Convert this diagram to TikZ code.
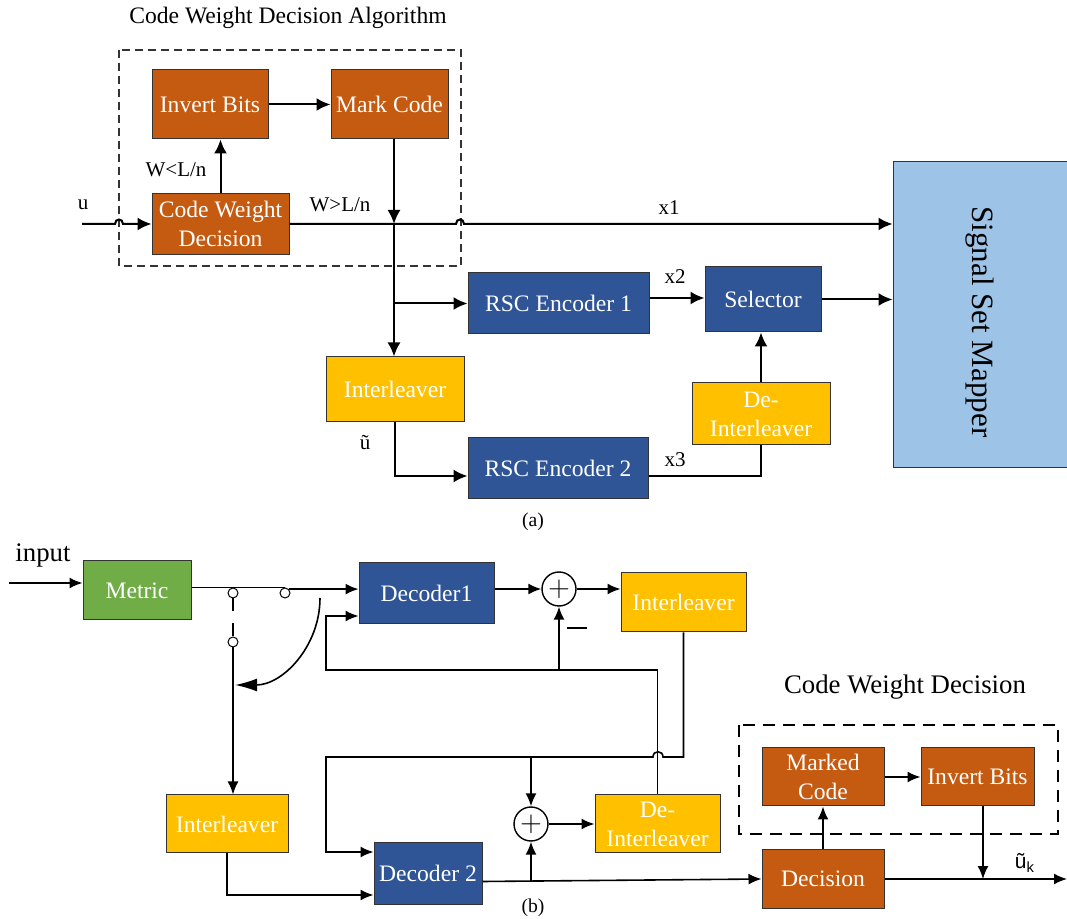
\documentclass[tikz,border=0pt]{standalone}
\usepackage{fontspec}
\setmainfont{Liberation Serif}
\newfontfamily\labelsans{Liberation Sans}
\usetikzlibrary{shapes,arrows.meta,positioning,calc}

\definecolor{codeorange}{HTML}{C55A11}
\definecolor{encblue}{HTML}{2F5597}
\definecolor{ilyellow}{HTML}{FFC000}
\definecolor{metricgreen}{HTML}{70AD47}
\definecolor{mapperblue}{HTML}{9DC3E6}

\begin{document}
\begin{tikzpicture}[x=0.5pt, y=-0.5pt,
    block/.style={rectangle, draw=black!80, line width=0.5pt, text=white, align=center, inner sep=1pt, font=\fontsize{11.8}{14.5}\selectfont},
    orangeblock/.style={block, fill=codeorange},
    blueblock/.style={block, fill=encblue},
    yellowblock/.style={block, fill=ilyellow},
    sumnode/.style={circle, draw, line width=0.7pt, minimum size=17pt, inner sep=0pt, font=\fontsize{15}{15}\selectfont},
    contact/.style={circle, draw, fill=white, line width=0.5pt, minimum size=5pt, inner sep=0pt},
    lbl/.style={font=\fontsize{10.5}{12}\selectfont},
    bigtitle/.style={font=\fontsize{13.4}{16}\selectfont},
    arr/.style={-{Latex[length=7pt,width=6.5pt]}, line width=1pt},
    arrb/.style={-{Latex[length=6.5pt,width=5.5pt]}, line width=0.8pt},
    wirea/.style={line width=1pt},
    wireb/.style={line width=0.8pt},
    groupa/.style={draw=black!80, dash pattern=on 4pt off 2.5pt, line width=0.6pt},
    groupb/.style={draw=black, dash pattern=on 6pt off 4pt, line width=1pt}]
    \useasboundingbox (0,0) rectangle (1067,919);

    \node[font=\fontsize{11.8}{14}\selectfont] (titleA) at (288,18) {Code Weight Decision Algorithm};
    \draw[groupa] (119,50) rectangle (461,266);
    \node[orangeblock, minimum width=58pt, minimum height=34.5pt] (invbitsA) at (210,104.5) {Invert Bits};
    \node[orangeblock, minimum width=58.5pt, minimum height=34.5pt] (markcode) at (389.5,104.5) {Mark Code};
    \node[orangeblock, minimum width=68.5pt, minimum height=30.5pt] (cwdec) at (220.5,224) {Code Weight\\Decision};
    \node[blueblock, minimum width=90.5pt, minimum height=30.5pt] (rscA) at (558.5,303.5) {RSC Encoder 1};
    \node[blueblock, minimum width=58pt, minimum height=32.5pt] (selector) at (763,299.5) {Selector};
    \node[yellowblock, minimum width=69pt, minimum height=32.5pt] (interA) at (395,389.5) {Interleaver};
    \node[yellowblock, minimum width=69pt, minimum height=31pt] (deinterA) at (761,414) {De-\\Interleaver};
    \node[blueblock, minimum width=90pt, minimum height=30.5pt] (rscB) at (558,468.5) {RSC Encoder 2};
    \node[rectangle, draw=black!80, line width=0.5pt, fill=mapperblue, minimum width=93.5pt, minimum height=153pt] (mapper) at (986.5,315) {};
    \node[rotate=-90, font=\fontsize{15.5}{18}\selectfont] (mapperlbl) at (980,322) {Signal Set Mapper};

    \coordinate (uin) at (82,224);
    \coordinate (jA) at (394,224);
    \coordinate (x2out) at ($(rscA.east)+(0,-5.5)$);

    \draw[arr] (uin) -- (115,224) .. controls (115,218) and (123,218) .. (123,224) -- (cwdec.west);
    \draw[arr] (cwdec.north) -- (cwdec.north |- invbitsA.south);
    \draw[arr] (invbitsA) -- (markcode);
    \draw[arr] (markcode.south -| jA) -- (jA);
    \draw[arr] (cwdec.east) -- (456,224) .. controls (456,218) and (464,218) .. (464,224) -- (mapper.west |- jA);
    \draw[arr] (jA) -- (jA |- interA.north);
    \draw[arr] (jA |- rscA) -- (rscA.west);
    \draw[arr] (x2out) -- (x2out -| selector.west);
    \draw[arr] (selector.east) -- (selector.east -| mapper.west);
    \draw[arr] (interA.south) |- ($(rscB.west)+(0,7.5)$);
    \draw[wirea] ($(rscB.east)+(0,7.5)$) -| (deinterA.south);
    \draw[arr] (deinterA.north) -- (deinterA.north |- selector.south);

    \node[lbl] (ulbl) at (83,205) {u};
    \node[lbl] (wless) at (176,170) {W<L/n};
    \node[lbl] (wmore) at (340,205) {W>L/n};
    \node[lbl] (xone) at (669,208) {x1};
    \node[lbl] (xtwo) at (675,277) {x2};
    \node[lbl] (xthree) at (675,460) {x3};
    \node[lbl] (utilde) at (365,443) {ũ};
    \node[font=\fontsize{9.8}{12}\selectfont] (capA) at (533,522) {(a)};

    \node[bigtitle] (inputlbl) at (43,555) {input};
    \node[block, fill=metricgreen, minimum width=54pt, minimum height=29.5pt] (metric) at (137,590.5) {Metric};
    \node[contact] (sw1) at (233,593) {};
    \node[contact] (sw2) at (285,593) {};
    \node[contact] (sw3) at (233,642) {};
    \node[blueblock, minimum width=67.5pt, minimum height=30.5pt] (dec1) at (426.5,593.5) {Decoder1};
    \node[sumnode] (sum1) at (559,589) {$+$};
    \node[yellowblock, minimum width=62.5pt, minimum height=29.5pt] (interB1) at (683.5,602.5) {Interleaver};
    \node[yellowblock, minimum width=61pt, minimum height=29pt] (interB2) at (227,824) {Interleaver};
    \node[blueblock, minimum width=54pt, minimum height=30.5pt] (dec2) at (428,873.5) {Decoder 2};
    \node[sumnode] (sum2) at (531,824) {$+$};
    \node[yellowblock, minimum width=62.5pt, minimum height=29pt] (deinterB) at (657.5,824) {De-\\Interleaver};
    \node[bigtitle] (titleB) at (905,687) {Code Weight Decision};
    \draw[groupb] (739,725) rectangle (1058,834);
    \node[orangeblock, minimum width=61pt, minimum height=29pt] (markedcode) at (823,777) {Marked\\Code};
    \node[orangeblock, minimum width=56.5pt, minimum height=29pt] (invbitsB) at (977.5,777) {Invert Bits};
    \node[orangeblock, minimum width=61pt, minimum height=29pt] (decision) at (823,879) {Decision};

    \coordinate (inp) at (9,583);
    \coordinate (swa) at (320,598);
    \coordinate (swb) at (235,685);
    \coordinate (fbA) at (326,670);
    \coordinate (fbB) at (326,757);
    \coordinate (dec2out) at ($(dec2.east)+(0,8)$);
    \coordinate (outj) at (983,879);
    \coordinate (uout) at (1067,879);

    \draw[arrb] (inp) -- (inp -| metric.west);
    \draw[wireb] ($(metric.east)+(0,-3)$) -- (sw1.north);
    \draw[wireb] (sw1.north) -- (sw2.north);
    \draw[arrb] (sw2.north east) -- (sw2.north east -| dec1.west);
    \draw[wireb, dash pattern=on 6.5pt off 6pt] (sw1.south) -- (sw3.north);
    \draw[arrb] (sw3.south) -- (sw3.south |- interB2.north);
    \draw[wireb, -{Latex[length=11pt,width=6.5pt]}] (swa) .. controls (320,646) and (283,685) .. (swb);
    \draw[arrb] (dec1.east |- sum1) -- (sum1.west);
    \draw[arrb] (sum1.east) -- (sum1.east -| interB1.west);
    \draw[arrb] (deinterB.north) |- (fbA) |- ($(dec1.west)+(0,22.5)$);
    \draw[arrb] (sum1 |- fbA) -- (sum1.south);
    \draw[arrb] (interB1.south) |- (663,757) .. controls (663,750) and (653,750) .. (653,757) -- (fbB) |- ($(dec2.west)+(0,-21.5)$);
    \draw[arrb] (sum2 |- fbB) -- (sum2.north);
    \draw[arrb] (interB2.south) |- ($(dec2.west)+(0,21.5)$);
    \draw[arrb] (sum2.east) -- (deinterB.west);
    \draw[arrb] (dec2out) -- (decision.west);
    \draw[arrb] (sum2 |- dec2out) -- (sum2.south);
    \draw[arrb] (decision.north) -- (markedcode.south);
    \draw[arrb] (markedcode.east) -- (invbitsB.west);
    \draw[arrb] (decision.east) -- (uout);
    \draw[arrb] (invbitsB.south -| outj) -- (outj);

    \node[inner sep=0pt] (minus) at (577,628) {\rule{10pt}{1.4pt}};
    \node[font=\labelsans\fontsize{10.5}{12}\selectfont] (uk) at (1025,863) {ũ\textsubscript{k}};
    \node[font=\fontsize{9.8}{12}\selectfont] (capB) at (533,908) {(b)};
\end{tikzpicture}
\end{document}
